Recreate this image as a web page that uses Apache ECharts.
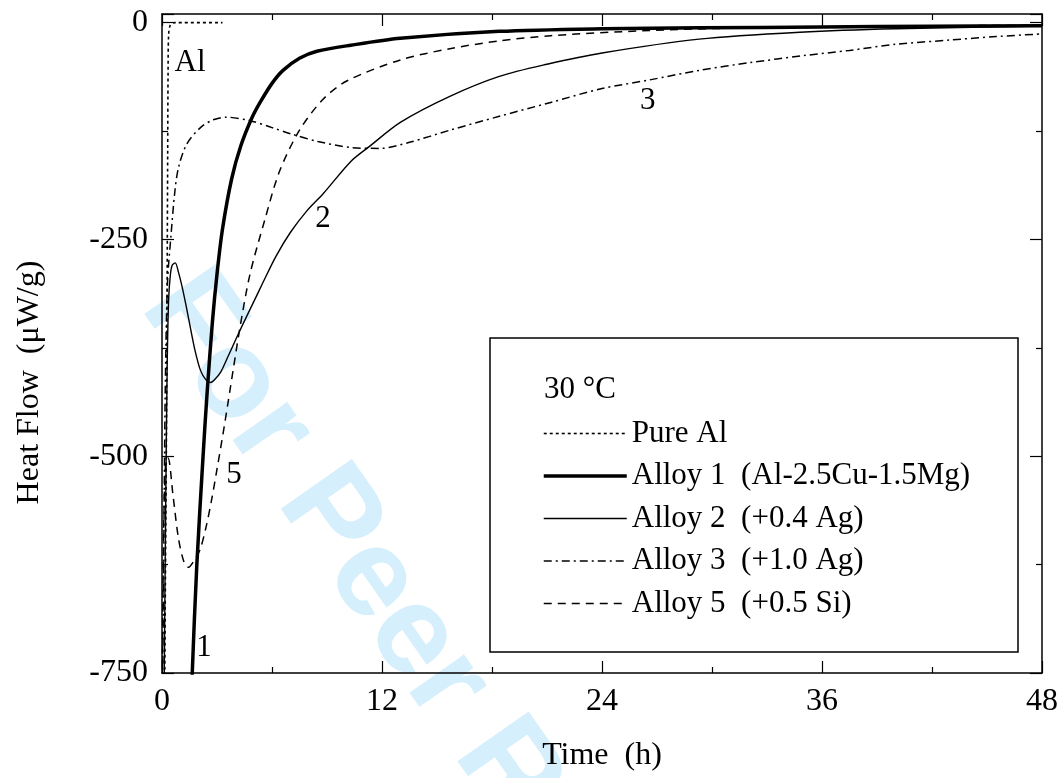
<!DOCTYPE html>
<html>
<head>
<meta charset="utf-8">
<script src="https://cdn.jsdelivr.net/npm/echarts@6/dist/echarts.min.js"></script>
<style>
html,body{margin:0;padding:0;background:#fff;}
#chart{width:1062px;height:778px;}
</style>
</head>
<body>
<div id="chart"></div>
<script>
// ---- data (time in h, heat flow in µW/g) ----
var xTicks = [0, 12, 24, 36, 48];
var yTicks = [-750, -500, -250, 0];

var pureAlT = [0.15, 0.2, 0.25, 0.28, 0.31, 0.33, 0.36, 0.45, 0.7, 3.3];
var pureAlV = [-760, -600, -450, -300, -150, -60, -15, -3, 0, 0];

var alloy1T = [1.6, 1.65, 1.9, 2.24, 2.45, 2.75, 3.0, 3.3, 3.8, 4.3, 4.9, 5.35, 6.0, 6.6, 7.5, 8.45, 10.3, 13, 18.4, 24, 29.3, 36, 42, 48];
var alloy1V = [-790, -750, -625, -500, -430, -345, -290, -238, -180, -142, -110, -92, -70, -55, -41, -33, -26, -18, -10, -7, -6, -5, -4, -3.5];

var alloy2T = [0.12, 0.2, 0.28, 0.36, 0.45, 0.55, 0.72, 0.9, 1.1, 1.3, 1.55, 1.8, 2.1, 2.4, 2.65, 2.9, 3.2, 3.6, 4.25, 5.0, 5.5, 6.2, 7.0, 7.9, 8.8, 10.3, 11.3, 13, 15.7, 18.4, 21, 24, 29.3, 34.8, 40, 48];
var alloy2V = [-760, -560, -400, -320, -292, -280, -277, -288, -305, -325, -352, -378, -401, -412, -415, -411, -403, -385, -355, -322, -300, -270, -242, -217, -197, -160, -143, -115, -85, -62, -48, -35, -19, -11, -7, -4];

var alloy3T = [0.04, 0.1, 0.18, 0.3, 0.5, 0.7, 0.9, 1.35, 2.1, 2.8, 3.5, 4.8, 6, 7, 8.5, 10.3, 11.9, 13.5, 15.7, 18.4, 21.2, 24, 26.6, 29.3, 32.1, 35, 37.5, 40, 43, 45.5, 48];
var alloy3V = [-760, -600, -420, -300, -243, -195, -167, -140, -121, -112, -109, -113, -121, -128, -137, -144, -145, -138, -124, -108, -92, -76, -66, -55, -46, -38, -32, -25, -20, -16, -13];

var alloy5T = [0.02, 0.08, 0.15, 0.22, 0.33, 0.6, 0.9, 1.2, 1.45, 1.7, 2.07, 2.4, 2.7, 3.0, 3.4, 3.7, 4.25, 4.8, 5.6, 6.4, 7.5, 8.8, 10.1, 13, 15.7, 18.4, 21.2, 26.6, 32, 40, 48];
var alloy5V = [-760, -600, -530, -505, -502, -545, -595, -622, -628, -622, -608, -582, -551, -515, -465, -425, -352, -290, -228, -172, -124, -88, -67, -43, -30, -21, -15, -9, -6, -4, -3];

var seriesNames = ['Pure Al', 'Alloy 1  (Al-2.5Cu-1.5Mg)', 'Alloy 2  (+0.4 Ag)', 'Alloy 3  (+1.0 Ag)', 'Alloy 5  (+0.5 Si)'];

// curve annotations (data coordinates)
var curveLabels = ['Al', '1', '2', '3', '5'];
var curveLabelT = [1.53, 2.29, 8.78, 26.5, 3.93];
var curveLabelV = [-46, -721, -226, -90, -521];

function pairs(t, v) { return t.map(function (x, i) { return [x, v[i]]; }); }

var FONT = '"Liberation Serif", "Times New Roman", serif';
var styles = [
  { width: 1.6, type: [3, 3] },
  { width: 3.5, type: 'solid' },
  { width: 1.4, type: 'solid' },
  { width: 1.5, type: [8, 4, 2, 4] },
  { width: 1.5, type: [8, 6] }
];
var datasets = [pairs(pureAlT, pureAlV), pairs(alloy1T, alloy1V), pairs(alloy2T, alloy2V), pairs(alloy3T, alloy3V), pairs(alloy5T, alloy5V)];

var chart = echarts.init(document.getElementById('chart'), null, { renderer: 'canvas' });

function xAxisCfg(pos, showLabel) {
  return {
    type: 'value', position: pos, min: 0, max: 48, interval: 12,
    name: showLabel ? 'Time  (h)' : '', nameLocation: 'middle', nameGap: 67,
    nameTextStyle: { fontFamily: FONT, fontSize: 32, color: '#000' },
    axisLine: { show: true, onZero: false, lineStyle: { color: '#000', width: 1.5 } },
    axisTick: { show: true, inside: true, length: 12, lineStyle: { color: '#000', width: 1.2 } },
    minorTick: { show: true, splitNumber: 2, length: 6, lineStyle: { color: '#000', width: 1.2 } },
    axisLabel: { show: showLabel, margin: 13, fontFamily: FONT, fontSize: 32, color: '#000' },
    splitLine: { show: false }, minorSplitLine: { show: false }
  };
}
function yAxisCfg(pos, showLabel) {
  return {
    type: 'value', position: pos, min: -750, max: 10, interval: 250,
    name: showLabel ? 'Heat Flow  (μW/g)' : '', nameLocation: 'middle', nameGap: 116,
    nameTextStyle: { fontFamily: FONT, fontSize: 32, color: '#000', padding: [0, 78, 0, 0] },
    axisLine: { show: true, onZero: false, lineStyle: { color: '#000', width: 1.5 } },
    axisTick: { show: true, inside: true, length: 12, lineStyle: { color: '#000', width: 1.2 } },
    minorTick: { show: true, splitNumber: 2, length: 6, lineStyle: { color: '#000', width: 1.2 } },
    axisLabel: {
      show: showLabel, margin: 14, fontFamily: FONT, fontSize: 32, color: '#000',
      formatter: function (v) { return yTicks.indexOf(v) >= 0 ? String(v) : ''; }
    },
    splitLine: { show: false }, minorSplitLine: { show: false }
  };
}

var series = datasets.map(function (d, i) {
  return {
    name: seriesNames[i], type: 'line', data: d, xAxisIndex: 0, yAxisIndex: 0,
    symbol: 'none', smooth: 0.3, clip: true, z: 5,
    lineStyle: { color: '#000', width: styles[i].width, type: styles[i].type, cap: 'butt' },
    itemStyle: { color: '#000' },
    emphasis: { disabled: true }, animation: false
  };
});

var option = {
  animation: false,
  backgroundColor: '#fff',
  grid: { left: 162, right: 20, top: 14, bottom: 105, containLabel: false },
  xAxis: [xAxisCfg('bottom', true), xAxisCfg('top', false)],
  yAxis: [yAxisCfg('left', true), yAxisCfg('right', false)],
  legend: {
    orient: 'vertical', left: 542, top: 418, padding: 0,
    itemWidth: 83, itemHeight: 20, itemGap: 11.5,
    selectedMode: false,
    textStyle: { fontFamily: FONT, fontSize: 31, color: '#000', lineHeight: 31 },
    itemStyle: { opacity: 0, borderWidth: 0 },
    data: seriesNames.map(function (n, i) {
      return {
        name: n,
        itemStyle: { opacity: 0, color: 'rgba(0,0,0,0)', borderWidth: 0 },
        lineStyle: { color: '#000', opacity: 1, width: styles[i].width, type: styles[i].type }
      };
    })
  },
  graphic: [
    {
      type: 'text', x: 168, y: 287, rotation: -55 * Math.PI / 180, z: -10, silent: true,
      style: { text: 'For Peer Review', font: 'bold 126px "Liberation Sans", Arial, sans-serif', fill: '#d5effc', align: 'left', verticalAlign: 'middle', textAlign: 'left', textVerticalAlign: 'middle' }
    },
    {
      type: 'rect', shape: { x: 490, y: 338, width: 528, height: 314 }, z: 3, silent: true,
      style: { fill: 'rgba(0,0,0,0)', stroke: '#000', lineWidth: 1.5 }
    },
    {
      type: 'text', x: 544, y: 390, z: 4, silent: true,
      style: { text: '30 °C', font: '31px ' + FONT, fill: '#000', align: 'left', verticalAlign: 'middle', textAlign: 'left', textVerticalAlign: 'middle' }
    }
  ],
  series: series
};
chart.setOption(option);

// curve annotations placed through the axes' scales
var extra = curveLabels.map(function (txt, i) {
  var p = chart.convertToPixel({ xAxisIndex: 0, yAxisIndex: 0 }, [curveLabelT[i], curveLabelV[i]]);
  return {
    type: 'text', x: p[0], y: p[1], z: 6, silent: true,
    style: { text: txt, font: '31px ' + FONT, fill: '#000', align: 'center', verticalAlign: 'middle', textAlign: 'center', textVerticalAlign: 'middle' }
  };
});
chart.setOption({ graphic: option.graphic.concat(extra) }, { replaceMerge: ['graphic'] });
</script>
</body>
</html>
